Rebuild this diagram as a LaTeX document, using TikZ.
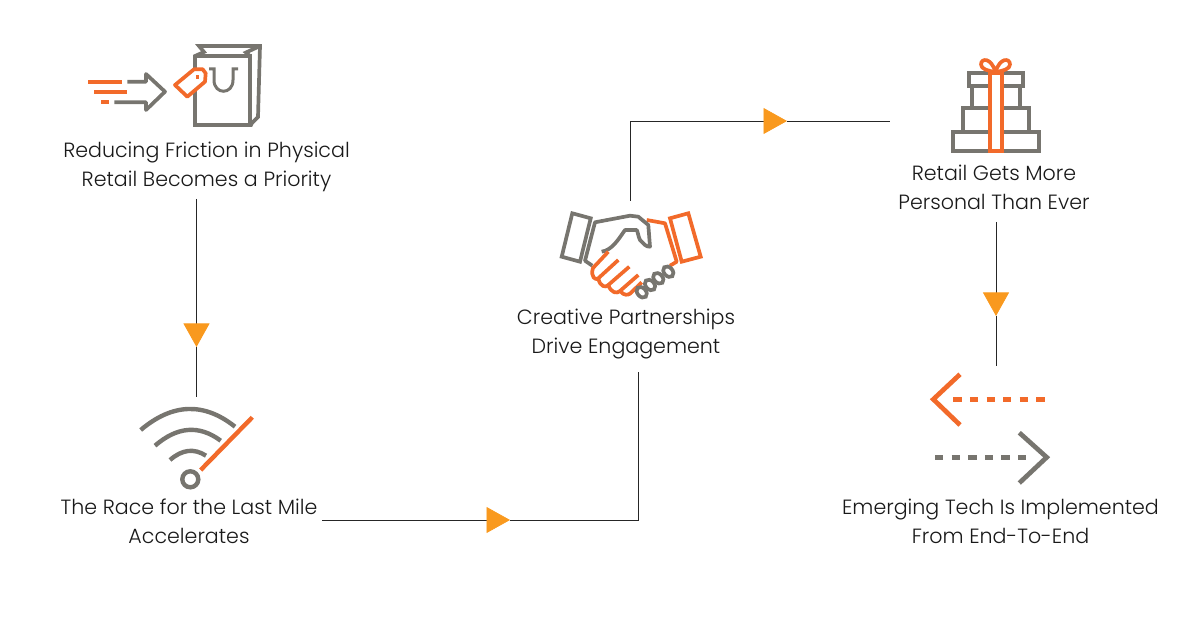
\documentclass[tikz,border=0pt]{standalone}
\usepackage{fontspec}
\usepackage{xcolor}
\usepackage{tikz}
\usetikzlibrary{arrows.meta}
\setmainfont{Poppins Light}
\definecolor{iconorange}{HTML}{F26A2A}
\definecolor{icongrey}{HTML}{77756F}
\definecolor{tipyellow}{HTML}{F9991E}
\tikzset{
  label/.style={align=center,inner sep=0pt,font=\fontsize{20.6}{29}\selectfont,text=black!90},
  link/.style={draw=black!85,line width=0.8pt},
  tipped/.style={link,-{Triangle[length=23.5pt,width=26pt,color=tipyellow]}},
  greyline/.style={draw=icongrey,line width=3.7pt,line join=miter},
  orangeline/.style={draw=iconorange,line width=3.7pt,line join=round},
}
\begin{document}
\begin{tikzpicture}[x=1pt,y=-1pt]
            \useasboundingbox (0,0) rectangle (1200,628);

            \node[label] (reducing) at (206.5, 167) {Reducing Friction in Physical\\Retail Becomes a Priority};
            \node[label] (race) at (189, 521) {The Race for the Last Mile\\Accelerates};
            \node[label] (creative) at (626, 334) {Creative Partnerships\\Drive Engagement};
            \node[label] (personal) at (994, 187) {Retail Gets More\\Personal Than Ever};
            \node[label] (emerging) at (1000.5, 521) {Emerging Tech Is Implemented\\From End-To-End};

            % connectors
            \coordinate (reducingout) at (196.5, 199);
            \coordinate (wifitop) at (196.5, 397);
            \coordinate (tipa) at (196.5, 347);
            \draw[tipped] (reducingout) -- (tipa);
            \draw[link] (tipa) -- (wifitop);

            \coordinate (raceout) at (322, 520);
            \coordinate (tipb) at (510, 520);
            \coordinate (creativein) at (638, 372);
            \draw[tipped] (raceout) -- (tipb);
            \draw[link] (tipb) -| (creativein);

            \coordinate (shaketop) at (630, 201);
            \coordinate (tipc) at (787, 121);
            \coordinate (giftleft) at (890, 121);
            \draw[tipped] (shaketop) |- (tipc);
            \draw[link] (tipc) -- (giftleft);

            \coordinate (personalout) at (996, 222);
            \coordinate (tipd) at (996, 316);
            \coordinate (arrowstop) at (996, 366);
            \draw[tipped] (personalout) -- (tipd);
            \draw[link] (tipd) -- (arrowstop);

            % bag
            \draw[greyline] (195,125) -- (195,56) -- (204,52) -- (199,46) -- (260,46) -- (258,117) -- (252,123) -- (251,125) -- cycle;
            \draw[greyline] (195,56) -- (250,56) -- (250,125);
            \draw[greyline] (250,56) -- (246,52.5) -- (260,46);
            \draw[greyline,line width=3pt] (209,69) -- (214,69) -- (214,80) .. controls (214,95) and (233,95) .. (233,80) -- (233,69) -- (238,69);
            \draw[orangeline,fill=white] (175,85) -- (194,69.3) -- (202.7,69.3) -- (205.7,73.3) -- (205,81.7) -- (187.3,96.7) -- cycle;
            \fill[iconorange] (195.8,75.3) rectangle (199.2,78.7);

            % speed arrow
            \draw[greyline,line join=round] (127.3,81.7) -- (146,81.7) -- (146,74) -- (165,91.7) -- (146,110) -- (146,102.3) -- (114.3,102.3);
            \draw[orangeline] (88.3,81.7) -- (121.7,81.7);
            \draw[orangeline] (94.3,91.7) -- (127.3,91.7);
            \draw[orangeline] (101,102.3) -- (109,102.3);

            % wifi
            \draw[greyline,line width=4.4pt] (140.7,430) .. controls (172.5,403.1) and (204,402) .. (235,426.7);
            \draw[greyline,line width=4.4pt] (155,445.7) .. controls (177.3,426.4) and (199.2,424.7) .. (220.7,440.7);
            \draw[greyline,line width=4.4pt] (170,460) .. controls (182.2,449.4) and (194,448) .. (206,455.7);
            \draw[greyline,line width=4.4pt] (190.3,479.3) circle (8);
            \draw[orangeline,line width=4.4pt] (200.7,470) -- (252.3,417.3);

            % handshake
            \draw[greyline] (572.3,213.3) -- (590.7,218.3) -- (580,261.7) -- (561.7,256.7) -- cycle;
            \draw[orangeline,line join=miter] (670,218.3) -- (688.3,213.3) -- (700.7,256.7) -- (681.7,261.7) -- cycle;
            \draw[orangeline] (646.7,220) -- (665,223.3) -- (676.7,261.7) -- (670,265.7);
            \draw[greyline,line join=round] (592.3,265.7) -- (585,260.7) -- (595,222.3) -- (630,215.7) -- (638.3,216.7) -- (648.3,225) -- (650,246.7) .. controls (646,247) and (644,244) .. (640,240) .. controls (638,236) and (638,232) .. (636.7,230) -- (625,230) .. controls (618,240) and (612,250) .. (601.7,251.7);
            \draw[orangeline] (608.3,251.7) -- (593,268) .. controls (590,277) and (596,281) .. (598.3,278.3) -- (618.3,260);
            \draw[orangeline] (598.3,278.3) .. controls (600,287) and (606,288) .. (608.3,285) -- (629.3,266.7);
            \draw[orangeline] (608.3,285) .. controls (611,293) and (617,294) .. (620,291) -- (638.3,275);
            \draw[orangeline] (620,291) .. controls (624,296) and (628,295) .. (630,293.7) -- (641.7,282.3);
            \foreach \ringx/\ringy in {641.7/292.3, 650/285, 658.3/278.3, 668.3/271.7}
                \draw[greyline] (\ringx,\ringy) ellipse [x radius=6, y radius=4.3, rotate=-48];

            % gift
            \draw[greyline] (952.7,132.3) rectangle (1039.3,150.7);
            \draw[greyline] (963.3,132.3) -- (963.3,108.3) -- (1029,108.3) -- (1029,132.3);
            \draw[greyline] (971.7,108.3) -- (971.7,86) (1020,86) -- (1020,108.3);
            \draw[greyline] (969,72.7) rectangle (1023.3,86);
            \draw[orangeline,line join=miter,fill=white] (990,72.7) rectangle (1001.7,150.7);
            \draw[orangeline] (995.5,72) .. controls (988,71) and (981,69) .. (981,64.5) .. controls (981,58) and (991,57) .. (995.5,72) .. controls (1000,57) and (1010,58) .. (1010,64.5) .. controls (1010,69) and (1003,71) .. (995.5,72);

            % two way arrows
            \draw[orangeline,line width=4.7pt,line join=miter] (960,374.3) -- (933.3,399.3) -- (960,425);
            \draw[draw=iconorange,line width=4.7pt,dash pattern=on 8.3pt off 8.3pt] (953.3,399.3) -- (1045,399.3);
            \draw[greyline,line width=4.7pt] (1019.3,432.7) -- (1046.7,457.3) -- (1019.3,483);
            \draw[draw=icongrey,line width=4.7pt,dash pattern=on 8.3pt off 8.3pt] (935,457.3) -- (1026.7,457.3);
\end{tikzpicture}
\end{document}
